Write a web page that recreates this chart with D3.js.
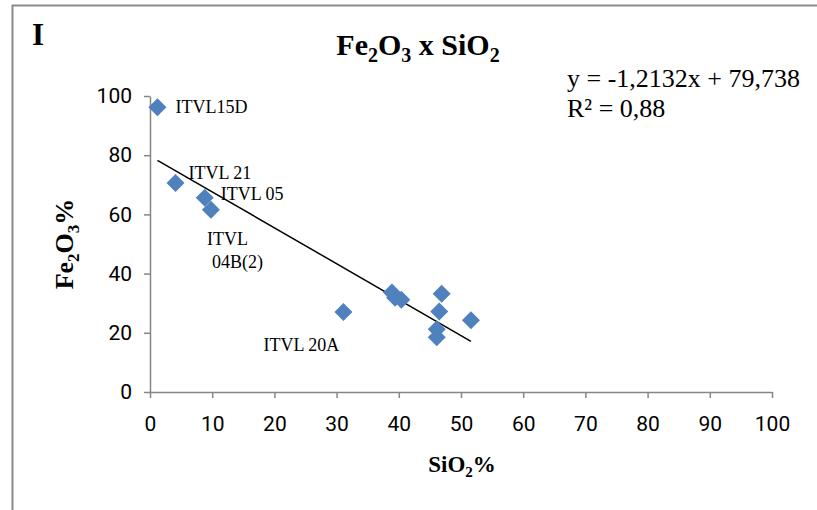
<!DOCTYPE html>
<html>
<head>
<meta charset="utf-8">
<script src="https://cdn.jsdelivr.net/npm/d3@7"></script>
<style>
  body { margin: 0; background: #fff; }
  svg text { fill: #000; }
</style>
</head>
<body>
<div id="chart"></div>
<script>
// samples: SiO2 % and Fe2O3 %
var sampleNames = ["ITVL15D", "ITVL 21", "ITVL 05", "ITVL 04B(2)", "ITVL 20A", "", "", "", "", "", "", "", ""];
var sio2 = [1.2, 4.1, 8.8, 9.8, 31.1, 38.9, 39.4, 40.4, 46.9, 46.5, 46.1, 46.1, 51.6];
var fe2o3 = [96.2, 70.6, 65.6, 61.6, 27.0, 33.6, 31.8, 31.2, 33.2, 27.2, 21.2, 18.5, 24.2];

// trend line from Excel
var slope = -1.2132, intercept = 79.738;
var xTicks = [0, 10, 20, 30, 40, 50, 60, 70, 80, 90, 100];
var yTicks = [0, 20, 40, 60, 80, 100];

var W = 817, H = 510;
var margin = { top: 96, left: 150, right: 45, bottom: 118 };

var svg = d3.select("#chart").append("svg")
    .attr("width", W)
    .attr("height", H);

// outer frame (clipped on right and bottom like the original)
svg.append("path")
    .attr("d", "M12.5," + H + "V5.5H" + W)
    .attr("fill", "none")
    .attr("stroke", "#8c8c8c")
    .attr("stroke-width", 2);

var x = d3.scaleLinear().domain([0, 100]).range([margin.left, W - margin.right]);
var y = d3.scaleLinear().domain([0, 100]).range([H - margin.bottom, margin.top]);

var axisColor = "#868686";

var gx = svg.append("g")
    .attr("transform", "translate(0," + y(0) + ")")
    .call(d3.axisBottom(x).tickValues(xTicks).tickSize(6).tickPadding(14).tickSizeOuter(0));
var gy = svg.append("g")
    .attr("transform", "translate(" + x(0) + ",0)")
    .call(d3.axisLeft(y).tickValues(yTicks).tickSize(6).tickPadding(12).tickSizeOuter(0));

[gx, gy].forEach(function (g) {
    g.selectAll("path, line").attr("stroke", axisColor).attr("stroke-width", 1.5);
    g.selectAll("text")
        .style("font-family", "Roboto, 'Open Sans', sans-serif")
        .style("font-size", "21px")
        .attr("fill", "#000");
});
gx.selectAll("text").attr("dy", "0.9em");

// trend line over the range of the data
var xmin = d3.min(sio2), xmax = d3.max(sio2);
svg.append("line")
    .attr("x1", x(xmin)).attr("y1", y(slope * xmin + intercept))
    .attr("x2", x(xmax)).attr("y2", y(slope * xmax + intercept))
    .attr("stroke", "#000")
    .attr("stroke-width", 1.5);

// diamond markers
var pts = sio2.map(function (v, i) { return { x: v, y: fe2o3[i], name: sampleNames[i] }; });
var r = 9;
svg.selectAll(".pt")
    .data(pts)
    .enter()
    .append("path")
    .attr("class", "pt")
    .attr("d", "M0," + (-r) + "L" + r + ",0L0," + r + "L" + (-r) + ",0Z")
    .attr("transform", function (d) { return "translate(" + x(d.x) + "," + y(d.y) + ")"; })
    .attr("fill", "#4f81bd");

// point labels, placement offsets in px
var labelOffsets = {
    "ITVL15D": [[18, 6]],
    "ITVL 21": [[13, -4]],
    "ITVL 05": [[16, 2]],
    "ITVL 04B(2)": [[-4, 35], [1, 58]],
    "ITVL 20A": [[-80, 39]]
};
var serif = "'Liberation Serif', 'Times New Roman', serif";
pts.forEach(function (d) {
    if (!d.name) return;
    var offs = labelOffsets[d.name];
    var parts = offs.length > 1 ? d.name.split(" ") : [d.name];
    parts.forEach(function (p, k) {
        svg.append("text")
            .attr("x", x(d.x) + offs[k][0])
            .attr("y", y(d.y) + offs[k][1])
            .style("font-family", serif)
            .style("font-size", "18px")
            .text(p);
    });
});

// panel letter
svg.append("text")
    .attr("x", 32).attr("y", 45)
    .style("font-family", serif)
    .style("font-weight", "bold")
    .style("font-size", "31px")
    .text("I");

// title
var title = svg.append("text")
    .attr("x", 418).attr("y", 55)
    .attr("text-anchor", "middle")
    .style("font-family", serif)
    .style("font-weight", "bold")
    .style("font-size", "30px");
title.append("tspan").text("Fe");
title.append("tspan").attr("dy", 7).style("font-size", "20px").text("2");
title.append("tspan").attr("dy", -7).text("O");
title.append("tspan").attr("dy", 7).style("font-size", "20px").text("3");
title.append("tspan").attr("dy", -7).text(" x SiO");
title.append("tspan").attr("dy", 7).style("font-size", "20px").text("2");

// equation
svg.append("text")
    .attr("x", 567).attr("y", 87)
    .style("font-family", serif)
    .style("font-size", "26px")
    .text("y = " + String(slope).replace(".", ",") + "x + " + String(intercept).replace(".", ","));
svg.append("text")
    .attr("x", 567).attr("y", 117)
    .style("font-family", serif)
    .style("font-size", "26px")
    .text("R² = 0,88");

// x axis title
var xt = svg.append("text")
    .attr("x", 462).attr("y", 472)
    .attr("text-anchor", "middle")
    .style("font-family", serif)
    .style("font-weight", "bold")
    .style("font-size", "23px");
xt.append("tspan").text("SiO");
xt.append("tspan").attr("dy", 5).style("font-size", "15px").text("2");
xt.append("tspan").attr("dy", -5).text("%");

// y axis title
var yt = svg.append("text")
    .attr("transform", "translate(73,244) rotate(-90)")
    .attr("text-anchor", "middle")
    .style("font-family", serif)
    .style("font-weight", "bold")
    .style("font-size", "26px");
yt.append("tspan").text("Fe");
yt.append("tspan").attr("dy", 6).style("font-size", "17px").text("2");
yt.append("tspan").attr("dy", -6).text("O");
yt.append("tspan").attr("dy", 6).style("font-size", "17px").text("3");
yt.append("tspan").attr("dy", -6).text("%");
</script>
</body>
</html>
